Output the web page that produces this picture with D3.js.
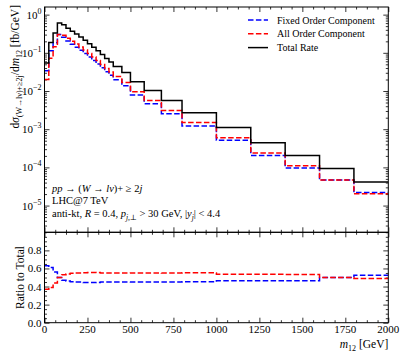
<!DOCTYPE html>
<html lang="en">
<head>
<meta charset="UTF-8">
<title>m12 distribution</title>
<script src="https://cdn.jsdelivr.net/npm/d3@7"></script>
<style>
  body { margin: 0; background: #fff; }
  svg { display: block; font-family: "Liberation Serif", "DejaVu Serif", serif; }
  .axis path { display: none; }
  .axis line { stroke: #000; stroke-width: 0.8; }
</style>
</head>
<body>
<svg id="chart" width="407" height="356"></svg>
<script>
// bin edges in GeV
const binEdges = [0, 25, 50, 75, 100, 125, 150, 175, 200, 225, 250, 275, 300, 325, 350, 375, 400,
  450, 500, 580, 680, 800, 1000, 1200, 1400, 1600, 1800, 2000];
// dsigma/dm12 [fb/GeV]
const totalRate = [0.054, 0.185, 0.328, 0.600, 0.541, 0.443, 0.370, 0.309, 0.258, 0.215, 0.174,
  0.141, 0.114, 0.090, 0.0707, 0.0573, 0.0437, 0.0304, 0.0175, 0.0103, 0.00564, 0.0027,
  0.00111, 0.000444, 0.000206, 0.0000929, 0.0000417];
const fixedOrder = [0.034, 0.113, 0.184, 0.300, 0.254, 0.204, 0.168, 0.139, 0.116, 0.0957, 0.0774,
  0.0627, 0.0507, 0.0405, 0.0318, 0.0258, 0.0197, 0.0137, 0.00788, 0.00464, 0.00254, 0.00122,
  0.000516, 0.000206, 0.0000958, 0.0000465, 0.0000219];
const allOrder = [0.020, 0.072, 0.144, 0.300, 0.287, 0.239, 0.202, 0.170, 0.142, 0.119, 0.0966,
  0.0783, 0.0633, 0.0495, 0.0389, 0.0315, 0.0240, 0.0167, 0.00963, 0.00567, 0.00310, 0.00149,
  0.000594, 0.000238, 0.000110, 0.0000465, 0.0000204];
const xTicks = [0, 250, 500, 750, 1000, 1250, 1500, 1750, 2000];
const yTickExps = [0, -1, -2, -3, -4, -5];
const ratioTicks = [0.0, 0.2, 0.4, 0.6, 0.8];

const svg = d3.select('#chart');
const left = 44.5, right = 388.3;
const mainTop = 7, mainBottom = 232.3, ratioBottom = 322.7;

const x = d3.scaleLinear().domain([0, 2000]).range([left, right]);
const y = d3.scaleLog().domain([Math.pow(10, -5.7), Math.pow(10, 0.2)]).range([mainBottom, mainTop]);
const yr = d3.scaleLinear().domain([0, 1]).range([ratioBottom, mainBottom]);

const xMinor = d3.range(0, 2000.1, 62.5).filter(v => v % 250 !== 0);
const yMajor = yTickExps.map(e => Math.pow(10, e));
const yMinor = [];
for (let e = -6; e <= 0; e++) {
  for (let m = 2; m <= 9; m++) {
    const v = m * Math.pow(10, e);
    if (v >= y.domain()[0] && v <= y.domain()[1]) yMinor.push(v);
  }
}
const rMinor = d3.range(0, 1.001, 0.05).filter(v => Math.abs(v * 5 - Math.round(v * 5)) > 1e-6);

// inward ticks on all four sides
function ticks(axisFn, scale, values, size, tx, ty) {
  svg.append('g').attr('class', 'axis')
    .attr('transform', `translate(${tx},${ty})`)
    .call(axisFn(scale).tickValues(values).tickSizeInner(size).tickSizeOuter(0).tickFormat(''));
}
function panelTicks(ys, top, bottom, yMaj, yMin) {
  ticks(d3.axisBottom, x, xTicks, -5, 0, bottom);
  ticks(d3.axisBottom, x, xMinor, -2.5, 0, bottom);
  ticks(d3.axisTop, x, xTicks, -5, 0, top);
  ticks(d3.axisTop, x, xMinor, -2.5, 0, top);
  ticks(d3.axisLeft, ys, yMaj, -5, left, 0);
  ticks(d3.axisLeft, ys, yMin, -2.5, left, 0);
  ticks(d3.axisRight, ys, yMaj, -5, right, 0);
  ticks(d3.axisRight, ys, yMin, -2.5, right, 0);
}
panelTicks(y, mainTop, mainBottom, yMajor, yMinor);
panelTicks(yr, mainBottom, ratioBottom, ratioTicks, rMinor);

// clip regions
const defs = svg.append('defs');
defs.append('clipPath').attr('id', 'clipMain').append('rect')
  .attr('x', left).attr('y', mainTop).attr('width', right - left).attr('height', mainBottom - mainTop);
defs.append('clipPath').attr('id', 'clipRatio').append('rect')
  .attr('x', left).attr('y', mainBottom).attr('width', right - left).attr('height', ratioBottom - mainBottom);

function stepPoints(vals) {
  const pts = [];
  vals.forEach((v, i) => { pts.push([binEdges[i], v]); pts.push([binEdges[i + 1], v]); });
  return pts;
}
const lineMain = d3.line().x(d => x(d[0])).y(d => y(d[1]));
const lineRatio = d3.line().x(d => x(d[0])).y(d => yr(d[1]));

const series = [
  { name: 'Fixed Order Component', vals: fixedOrder, color: '#0000ff', dash: '5.5,2.4' },
  { name: 'All Order Component', vals: allOrder, color: '#ff0000', dash: '5.5,2.4' },
  { name: 'Total Rate', vals: totalRate, color: '#000000', dash: null }
];

const gMain = svg.append('g').attr('clip-path', 'url(#clipMain)');
series.forEach(s => {
  gMain.append('path').attr('d', lineMain(stepPoints(s.vals)))
    .attr('fill', 'none').attr('stroke', s.color).attr('stroke-width', 1.5)
    .attr('stroke-dasharray', s.dash);
});

const gRatio = svg.append('g').attr('clip-path', 'url(#clipRatio)');
series.slice(0, 2).forEach(s => {
  const ratio = s.vals.map((v, i) => v / totalRate[i]);
  gRatio.append('path').attr('d', lineRatio(stepPoints(ratio)))
    .attr('fill', 'none').attr('stroke', s.color).attr('stroke-width', 1.5)
    .attr('stroke-dasharray', s.dash);
});

// frames
[[mainTop, mainBottom], [mainBottom, ratioBottom]].forEach(([t, b]) => {
  svg.append('rect').attr('x', left).attr('y', t).attr('width', right - left).attr('height', b - t)
    .attr('fill', 'none').attr('stroke', '#000').attr('stroke-width', 1);
});

// tick labels
const yLab = svg.append('g').attr('font-size', 11).attr('text-anchor', 'end');
yTickExps.forEach(e => {
  const t = yLab.append('text').attr('x', left - 3).attr('y', y(Math.pow(10, e)) + 4);
  t.append('tspan').text('10');
  t.append('tspan').attr('dy', -5).attr('font-size', 8).text(e === 0 ? '0' : '\u2212' + (-e));
});
const rLab = svg.append('g').attr('font-size', 11).attr('text-anchor', 'end');
ratioTicks.forEach(v => {
  rLab.append('text').attr('x', left - 3).attr('y', yr(v) + 4).text(v.toFixed(1));
});
const xLab = svg.append('g').attr('font-size', 11).attr('text-anchor', 'middle');
xTicks.forEach(v => {
  xLab.append('text').attr('x', x(v)).attr('y', ratioBottom + 10.5).text(v);
});

// axis titles
const xt = svg.append('text').attr('x', right).attr('y', 348).attr('text-anchor', 'end')
  .attr('font-size', 11.5);
xt.append('tspan').attr('font-style', 'italic').text('m');
xt.append('tspan').attr('dy', 2.5).attr('font-size', 8).text('12');
xt.append('tspan').attr('dy', -2.5).text(' [GeV]');

svg.append('text').attr('transform', `translate(24,${(mainBottom + ratioBottom) / 2}) rotate(-90)`)
  .attr('text-anchor', 'middle').attr('font-size', 11.5).text('Ratio to Total');

const yt = svg.append('text').attr('transform', `translate(19,5) rotate(-90)`)
  .attr('text-anchor', 'end').attr('font-size', 11.5);
yt.append('tspan').text('d');
yt.append('tspan').attr('font-style', 'italic').text('\u03c3');
yt.append('tspan').attr('dy', 2.5).attr('font-size', 8).text('(W\u2192l\u03bd)+\u22652j');
yt.append('tspan').attr('dy', -2.5).text('/d');
yt.append('tspan').attr('font-style', 'italic').text('m');
yt.append('tspan').attr('dy', 2.5).attr('font-size', 8).text('12');
yt.append('tspan').attr('dy', -2.5).text(' [fb/GeV]');

// annotations
const ann = svg.append('g').attr('font-size', 10.5);
const a1 = ann.append('text').attr('x', 52).attr('y', 192);
a1.append('tspan').attr('font-style', 'italic').text('pp');
a1.append('tspan').text(' \u2192 (');
a1.append('tspan').attr('font-style', 'italic').text('W');
a1.append('tspan').text(' \u2192 ');
a1.append('tspan').attr('font-style', 'italic').text('l\u03bd');
a1.append('tspan').text(')+ \u2265 2');
a1.append('tspan').attr('font-style', 'italic').text('j');
ann.append('text').attr('x', 52).attr('y', 204).text('LHC@7 TeV');
const a3 = ann.append('text').attr('x', 52).attr('y', 217);
a3.append('tspan').text('anti-kt, ');
a3.append('tspan').attr('font-style', 'italic').text('R');
a3.append('tspan').text(' = 0.4, ');
a3.append('tspan').attr('font-style', 'italic').text('p');
a3.append('tspan').attr('dy', 2.5).attr('font-size', 7.5).attr('font-style', 'italic').text('j,\u22a5');
a3.append('tspan').attr('dy', -2.5).text(' > 30 GeV, |');
a3.append('tspan').attr('font-style', 'italic').text('y');
a3.append('tspan').attr('dy', 2.5).attr('font-size', 7.5).attr('font-style', 'italic').text('j');
a3.append('tspan').attr('dy', -2.5).text('| < 4.4');

// legend
const leg = svg.append('g').attr('font-size', 10);
series.forEach((s, i) => {
  const ly = 20 + i * 13.8;
  leg.append('line').attr('x1', 248).attr('x2', 268).attr('y1', ly).attr('y2', ly)
    .attr('stroke', s.color).attr('stroke-width', 1.5).attr('stroke-dasharray', s.dash);
  leg.append('text').attr('x', 277).attr('y', ly + 3.5).text(s.name);
});
</script>
</body>
</html>
